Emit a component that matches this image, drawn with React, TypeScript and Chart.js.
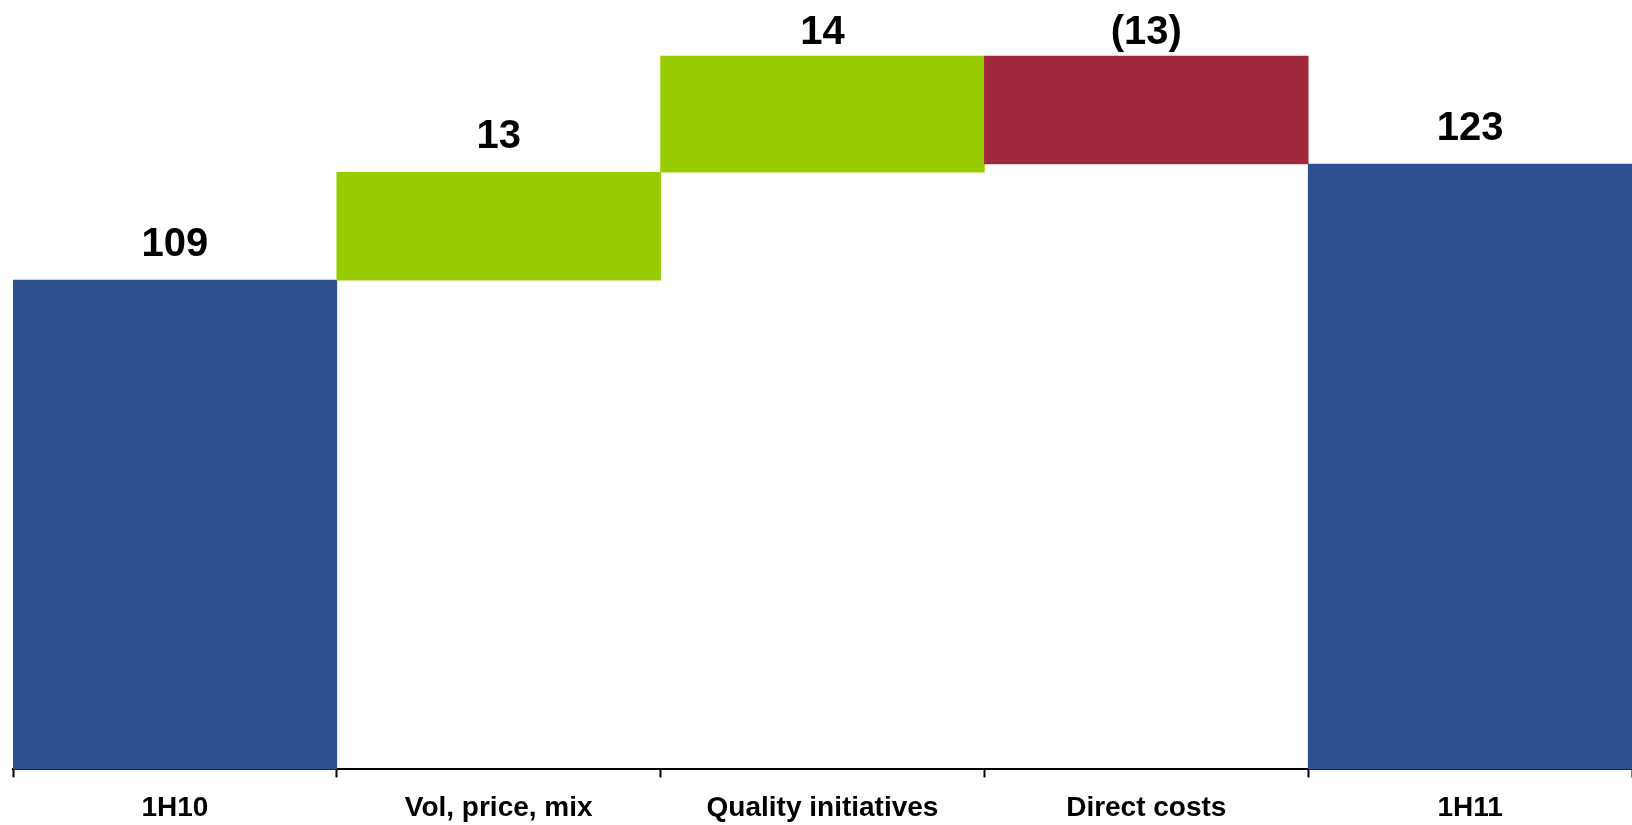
import React, { useEffect, useRef } from "react";
import { Chart, registerables } from "chart.js";

Chart.register(...registerables);

const categories = ["1H10", "Vol, price, mix", "Quality initiatives", "Direct costs", "1H11"];
const values = [109, 13, 14, -13, 123];
const kinds = ["total", "delta", "delta", "delta", "total"];
const valueLabels = ["109", "13", "14", "(13)", "123"];

const BLUE = "#2E5090";
const GREEN = "#99CC00";
const RED = "#A0283C";

function buildRanges(): [number, number][] {
  const out: [number, number][] = [];
  let running = 0;
  values.forEach((v, i) => {
    if (kinds[i] === "total") {
      out.push([0, v]);
      running = v;
    } else {
      out.push([running, running + v]);
      running += v;
    }
  });
  return out;
}

function colors(): string[] {
  return values.map((v, i) => (kinds[i] === "total" ? BLUE : v >= 0 ? GREEN : RED));
}

const labelPlugin = {
  id: "valueLabels",
  afterDatasetsDraw(chart: any) {
    const ctx = chart.ctx;
    const meta = chart.getDatasetMeta(0);
    const area = chart.chartArea;
    ctx.save();
    ctx.font = "bold 40px 'Liberation Sans', Arial, sans-serif";
    ctx.fillStyle = "#000";
    ctx.textAlign = "center";
    ctx.textBaseline = "alphabetic";
    meta.data.forEach((bar: any, i: number) => {
      const top = Math.min(bar.y, bar.base);
      const y = Math.max(top - 24, area.top + 21);
      ctx.fillText(valueLabels[i], bar.x, y);
    });
    ctx.restore();
  },
};

export default function App() {
  const ref = useRef<HTMLCanvasElement>(null);
  useEffect(() => {
    if (!ref.current) return;
    const chart = new Chart(ref.current, {
      type: "bar",
      data: {
        labels: categories,
        datasets: [
          {
            data: buildRanges() as any,
            backgroundColor: colors(),
            borderWidth: 0,
            barPercentage: 1,
            categoryPercentage: 1,
          },
        ],
      },
      options: {
        responsive: false,
        animation: false,
        layout: { padding: { left: 13, right: 0, top: 23, bottom: -14 } },
        plugins: {
          legend: { display: false },
          tooltip: { enabled: false },
        },
        scales: {
          x: {
            offset: true,
            grid: {
              display: true,
              offset: true,
              drawOnChartArea: false,
              drawTicks: true,
              tickLength: 8,
              tickColor: "#000",
              tickWidth: 2,
            },
            border: { display: true, color: "#000", width: 2 },
            ticks: {
              color: "#000",
              padding: 14,
              maxRotation: 0,
              autoSkip: false,
              font: { family: "'Liberation Sans', Arial, sans-serif", size: 28, weight: "bold" },
            },
          },
          y: {
            display: false,
            min: 50,
            max: 140,
          },
        },
      },
      plugins: [labelPlugin],
    });
    return () => chart.destroy();
  }, []);
  return (
    <canvas
      ref={ref}
      width={1632}
      height={825}
      style={{ position: "fixed", left: 0, top: 0, width: 1632, height: 825, display: "block", background: "#fff" }}
    />
  );
}
